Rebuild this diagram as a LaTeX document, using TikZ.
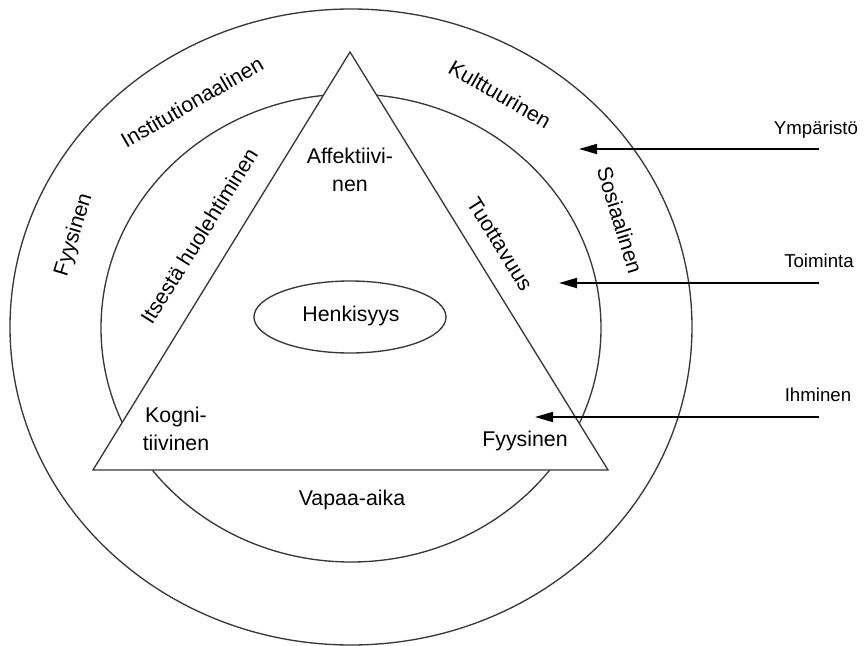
\documentclass[tikz,border=0pt]{standalone}
\usepackage{fontspec}
\setmainfont{Liberation Sans}
\usetikzlibrary{shapes.geometric,arrows.meta}
\begin{document}
\begin{tikzpicture}[x=0.75pt,y=-0.75pt,
  ring/.style={draw=black!78,line width=1pt,ellipse,inner sep=0pt},
  lbl/.style={inner sep=0pt,font=\fontsize{16}{21}\selectfont,align=center},
  side/.style={inner sep=0pt,font=\fontsize{14}{17}\selectfont},
  inflow/.style={draw=black,line width=1.3pt,-{Triangle[length=13.5pt,width=7.5pt]}}]
\useasboundingbox (0,0) rectangle (865,646);

% environment and activity rings
\node[ring,minimum width=511.5pt,minimum height=477pt] (outer) at (351,327) {};
\node[ring,minimum width=375pt,minimum height=351pt] (inner) at (351,328) {};

% person triangle
\coordinate (tl) at (93,470);
\coordinate (tr) at (608,470);
\coordinate (tt) at (350,52);
\draw[draw=black!78,line width=1pt,fill=white] (tl) -- (tr) -- (tt) -- cycle;

\node[ring,minimum width=144pt,minimum height=54pt] (core) at (350,317) {};
\node[lbl,anchor=base] (henk) at (351,321) {Henkisyys};

% triangle corners and base
\node[lbl] (aff) at (350,170) {Affektiivi-\\nen};
\node[lbl] (kog) at (176,429) {Kogni-\\tiivinen};
\node[lbl,anchor=base] (fyy) at (525,446) {Fyysinen};
\node[lbl,anchor=base] (vap) at (352,505) {Vapaa-aika};

% labels along the triangle sides
\node[lbl,rotate=58] (itse) at (199,236) {Itsestä huolehtiminen};
\node[lbl,rotate=-58] (tuot) at (500,244) {Tuottavuus};

% labels in the outer ring
\node[lbl,rotate=30] (inst) at (192,102) {Institutionaalinen};
\node[lbl,rotate=-30] (kult) at (500,94) {Kulttuurinen};
\node[lbl,rotate=73] (fyyo) at (74,235) {Fyysinen};
\node[lbl,rotate=-73] (sos) at (620,220) {Sosiaalinen};

% incoming arrows
\node[side,anchor=base] (ymp) at (816,134) {Ympäristö};
\node[side,anchor=base] (toi) at (819,267) {Toiminta};
\node[side,anchor=base] (ihm) at (818,401) {Ihminen};
\coordinate (ympS) at (819,149);
\coordinate (ympE) at (579,149);
\coordinate (toiS) at (819,283);
\coordinate (toiE) at (559,283);
\coordinate (ihmS) at (819,417);
\coordinate (ihmE) at (535,417);
\draw[inflow] (ympS) -- (ympE);
\draw[inflow] (toiS) -- (toiE);
\draw[inflow] (ihmS) -- (ihmE);
\end{tikzpicture}
\end{document}
